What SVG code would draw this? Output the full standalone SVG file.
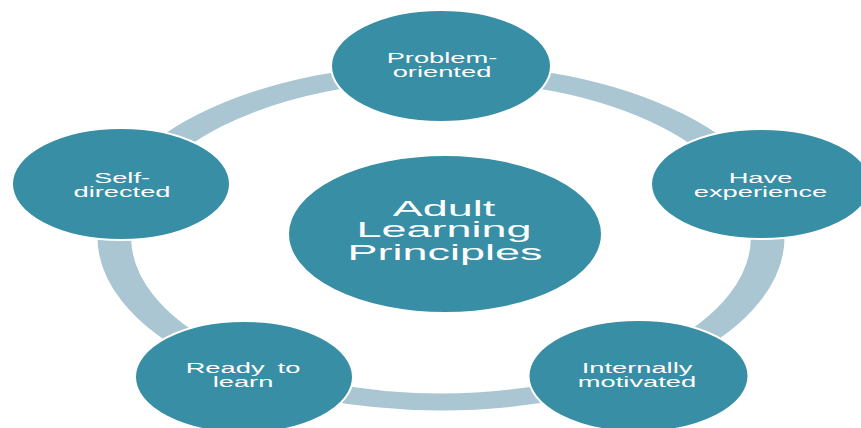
<svg xmlns="http://www.w3.org/2000/svg" width="861" height="428" viewBox="0 0 861 428">
<style>
.node{fill:#388EA5;stroke:#ffffff;stroke-width:2}
.ring{fill:none;stroke:#AAC6D2;stroke-width:17}
.lbl{font-family:"Liberation Sans",Arial,sans-serif;font-size:15px;fill:#ffffff;text-anchor:middle}
.big{font-family:"Liberation Sans",Arial,sans-serif;font-size:22.5px;fill:#ffffff;text-anchor:middle}
</style>
<rect width="861" height="428" fill="#ffffff"/>
<g id="connectors">
<circle class="ring" cx="0" cy="0" r="165" transform="translate(441,237) scale(1.98,1)"/>
</g>
<g id="center">
<ellipse class="node" cx="445" cy="234" rx="157" ry="79"/>
<text class="big" transform="matrix(2 0 0 1 444 0)" x="0" y="216">Adult</text>
<text class="big" transform="matrix(2 0 0 1 444 0)" x="0" y="237.5">Learning</text>
<text class="big" transform="matrix(2 0 0 1 445 0)" x="0" y="260">Principles</text>
</g>
<g id="problem-oriented">
<ellipse class="node" cx="441" cy="66" rx="110" ry="56"/>
<text class="lbl" transform="matrix(1.82 0 0 1 442 0)" x="0" y="63.3">Problem-</text>
<text class="lbl" transform="matrix(1.82 0 0 1 442 0)" x="0" y="76.7">oriented</text>
</g>
<g id="have-experience">
<ellipse class="node" cx="761" cy="184" rx="110" ry="55"/>
<text class="lbl" transform="matrix(1.82 0 0 1 760.5 0)" x="0" y="182.7">Have</text>
<text class="lbl" transform="matrix(1.82 0 0 1 760.5 0)" x="0" y="196.7">experience</text>
</g>
<g id="internally-motivated">
<ellipse class="node" cx="638.5" cy="376" rx="110" ry="56"/>
<text class="lbl" transform="matrix(1.82 0 0 1 637 0)" x="0" y="373.3">Internally</text>
<text class="lbl" transform="matrix(1.82 0 0 1 637 0)" x="0" y="386.7">motivated</text>
</g>
<g id="ready-to-learn">
<ellipse class="node" cx="244" cy="377" rx="109" ry="56"/>
<text class="lbl" transform="matrix(1.82 0 0 1 243 0)" x="0" y="373.3" word-spacing="3">Ready to</text>
<text class="lbl" transform="matrix(1.82 0 0 1 243 0)" x="0" y="386.7">learn</text>
</g>
<g id="self-directed">
<ellipse class="node" cx="121" cy="184" rx="109" ry="56"/>
<text class="lbl" transform="matrix(1.82 0 0 1 122 0)" x="0" y="183.3">Self-</text>
<text class="lbl" transform="matrix(1.82 0 0 1 122 0)" x="0" y="196.7">directed</text>
</g>
</svg>
